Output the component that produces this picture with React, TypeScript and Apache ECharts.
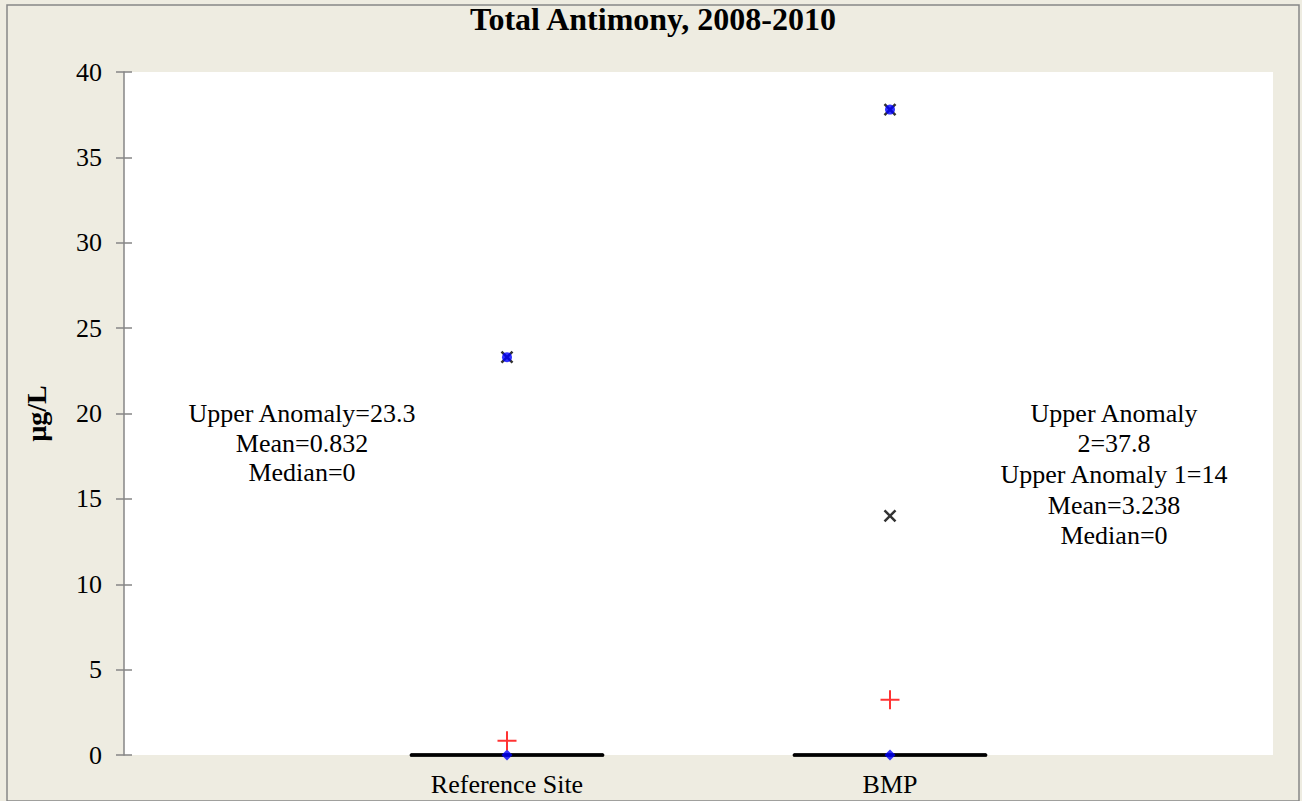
import React, { useEffect, useRef } from "react";
import * as echarts from "echarts";

const categories = ["Reference Site", "BMP"];
// [min, q1, median, q3, max] for each site
const boxStats = [
  [0, 0, 0, 0, 0],
  [0, 0, 0, 0, 0],
];
const means = [0.832, 3.238];
const medians = [0, 0];
const maxima = [23.3, 37.8];
const upperAnomalies = [[23.3], [37.8, 14]];
const yTicks = [0, 5, 10, 15, 20, 25, 30, 35, 40];

const FONT = "'Liberation Serif', 'Times New Roman', serif";

export default function App() {
  const ref = useRef<HTMLDivElement>(null);
  useEffect(() => {
    document.body.style.margin = "0";
    const chart = echarts.init(ref.current!, null, { renderer: "svg" });

    const boxData = boxStats.map((s, i) => [i + 1, ...s]);
    const medianData = medians.map((v, i) => [i + 1, v]);
    const meanData = means.map((v, i) => [i + 1, v]);
    const maxData = maxima.map((v, i) => [i + 1, v]);
    const anomalyData: number[][] = [];
    upperAnomalies.forEach((arr, i) => arr.forEach((v) => anomalyData.push([i + 1, v])));

    const leftLines = [
      `Upper Anomaly=${upperAnomalies[0][0]}`,
      `Mean=${means[0]}`,
      `Median=${medians[0]}`,
    ];
    const rightLines = [
      "Upper Anomaly",
      `2=${upperAnomalies[1][0]}`,
      `Upper Anomaly 1=${upperAnomalies[1][1]}`,
      `Mean=${means[1]}`,
      `Median=${medians[1]}`,
    ];
    const leftYs = [413, 443, 472];
    const rightYs = [413, 443, 474, 505, 535];

    const textEls: any[] = [];
    leftLines.forEach((t, i) =>
      textEls.push({
        type: "text",
        x: 302,
        y: leftYs[i],
        style: { text: t, font: `26px ${FONT}`, fill: "#000", textAlign: "center", textVerticalAlign: "middle" },
        z: 10,
      })
    );
    rightLines.forEach((t, i) =>
      textEls.push({
        type: "text",
        x: 1114,
        y: rightYs[i],
        style: { text: t, font: `26px ${FONT}`, fill: "#000", textAlign: "center", textVerticalAlign: "middle" },
        z: 10,
      })
    );

    const option: any = {
      animation: false,
      backgroundColor: "#EEECE1",
      title: {
        text: "Total Antimony, 2008-2010",
        left: 648,
        textAlign: "center",
        top: -2,
        textStyle: { fontFamily: FONT, fontSize: 32, fontWeight: "bold", color: "#000" },
      },
      graphic: [
        {
          type: "rect",
          shape: { x: 7, y: 5, width: 1292, height: 796 },
          style: { fill: "none", stroke: "#868686", lineWidth: 1.5 },
          z: -1,
          silent: true,
        },
        ...textEls,
      ],
      grid: {
        left: 124,
        top: 72,
        right: 29,
        bottom: 46,
        show: true,
        backgroundColor: "#FFFFFF",
        borderWidth: 0,
      },
      xAxis: {
        type: "value",
        min: 0,
        max: categories.length + 1,
        interval: 1,
        axisLine: { show: false },
        axisTick: { show: false },
        splitLine: { show: false },
        axisLabel: {
          margin: 16,
          fontFamily: FONT,
          fontSize: 26,
          color: "#000",
          formatter: (v: number) => categories[v - 1] ?? "",
        },
      },
      yAxis: [
        {
          type: "value",
          min: yTicks[0],
          max: yTicks[yTicks.length - 1],
          interval: 5,
          name: "µg/L",
          nameLocation: "middle",
          nameRotate: 90,
          nameGap: 74,
          nameTextStyle: { fontFamily: FONT, fontSize: 28, fontWeight: "bold", color: "#000" },
          axisLine: { show: true, lineStyle: { color: "#868686", width: 1.5 } },
          axisTick: { show: true, length: 8, lineStyle: { color: "#868686", width: 1.5 } },
          splitLine: { show: false },
          axisLabel: { margin: 22, fontFamily: FONT, fontSize: 26, color: "#000" },
        },
        {
          type: "value",
          min: yTicks[0],
          max: yTicks[yTicks.length - 1],
          interval: 5,
          position: "left",
          axisLine: { show: false },
          axisTick: { show: true, inside: true, length: 8, lineStyle: { color: "#868686", width: 1.5 } },
          axisLabel: { show: false },
          splitLine: { show: false },
        },
      ],
      series: [
        {
          type: "custom",
          data: boxData,
          clip: false,
          renderItem: (params: any, api: any) => {
            const x = api.value(0);
            const mn = api.value(1), q1 = api.value(2), md = api.value(3), q3 = api.value(4), mx = api.value(5);
            const hw = 0.25;
            const pL1 = api.coord([x - hw, q1]);
            const pR1 = api.coord([x + hw, q1]);
            const pL3 = api.coord([x - hw, q3]);
            const pR3 = api.coord([x + hw, q3]);
            const pLm = api.coord([x - hw, md]);
            const pRm = api.coord([x + hw, md]);
            const pMin = api.coord([x, mn]);
            const pMax = api.coord([x, mx]);
            const st = { stroke: "#000", lineWidth: 3, lineCap: "round" };
            const ln = (a: number[], b: number[]) => ({
              type: "line",
              shape: { x1: a[0], y1: a[1], x2: b[0], y2: b[1] },
              style: st,
            });
            return {
              type: "group",
              children: [
                ln(pL1, pR1),
                ln(pL3, pR3),
                ln(pL1, pL3),
                ln(pR1, pR3),
                ln(pLm, pRm),
                ln(pMin, [pMin[0], pL1[1]]),
                ln(pMax, [pMax[0], pL3[1]]),
              ],
            };
          },
          z: 2,
        },
        {
          type: "scatter",
          name: "Median",
          data: medianData,
          symbol: "diamond",
          symbolSize: 11,
          itemStyle: { color: "#0000FF" },
          z: 3,
        },
        {
          type: "scatter",
          name: "Upper Anomaly",
          data: anomalyData,
          symbol: "path://M0,0L10,10M10,0L0,10",
          symbolSize: 11,
          itemStyle: { color: "none", borderColor: "#000", borderWidth: 2.5 },
          z: 4,
        },
        {
          type: "scatter",
          name: "Max",
          data: maxData,
          symbol: "circle",
          symbolSize: 10,
          itemStyle: { color: "#0000FF" },
          z: 5,
        },
        {
          type: "scatter",
          name: "Mean",
          data: meanData,
          symbol: "path://M5,0L5,10M0,5L10,5",
          symbolSize: 19,
          itemStyle: { color: "none", borderColor: "#FF0000", borderWidth: 2 },
          z: 6,
        },
      ],
    };
    chart.setOption(option);
    return () => chart.dispose();
  }, []);
  return <div ref={ref} style={{ width: 1302, height: 801 }} />;
}
